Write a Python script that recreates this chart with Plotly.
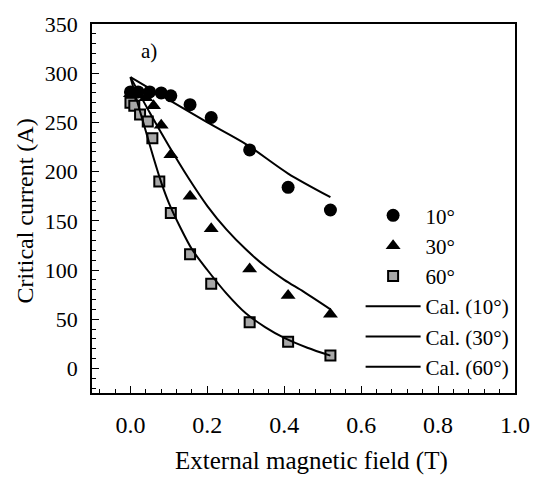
import plotly.graph_objects as go

# Measured data
x10 = [0.0, 0.02, 0.05, 0.08, 0.105, 0.155, 0.21, 0.31, 0.41, 0.52]
y10 = [281, 281, 281, 280, 277, 268, 255, 222, 184, 161]

x30 = [0.0, 0.02, 0.04, 0.06, 0.08, 0.105, 0.155, 0.21, 0.31, 0.41, 0.52]
y30 = [279, 278, 275, 267, 247, 217, 175, 142, 101, 74, 55]

x60 = [0.0, 0.01, 0.025, 0.045, 0.057, 0.075, 0.105, 0.155, 0.21, 0.31, 0.41, 0.52]
y60 = [270, 267, 258, 251, 234, 190, 158, 116, 86, 47, 27, 13]

# Calculated curves
cx10 = [0.0, 0.1, 0.2, 0.3, 0.41, 0.52]
cy10 = [296, 273, 250, 228, 198, 174]

cx30 = [0.0, 0.05, 0.1, 0.15, 0.2, 0.25, 0.3, 0.35, 0.4, 0.45, 0.52]
cy30 = [296, 260, 226, 194, 165, 141, 121, 104, 90, 78, 60]

cx60 = [0.0, 0.02, 0.04, 0.06, 0.08, 0.1, 0.13, 0.16, 0.2, 0.25, 0.3, 0.35, 0.4, 0.46, 0.52]
cy60 = [296, 268, 241, 214, 189, 168, 143, 121, 100, 76, 56, 42, 31, 21, 13]

names = ["10°", "30°", "60°", "Cal. (10°)", "Cal. (30°)", "Cal. (60°)"]
x_title = "External magnetic field (T)"
y_title = "Critical current (A)"

FONT = "Liberation Serif, Times New Roman, DejaVu Serif, serif"

fig = go.Figure()
fig.add_trace(go.Scatter(x=x10, y=y10, mode="markers", name=names[0],
                         marker=dict(symbol="circle", size=13, color="black")))
fig.add_trace(go.Scatter(x=x30, y=y30, mode="markers", name=names[1],
                         marker=dict(symbol="triangle-up", size=13, color="black")))
fig.add_trace(go.Scatter(x=x60, y=y60, mode="markers", name=names[2],
                         marker=dict(symbol="square", size=10, color="#a8a8a8",
                                     line=dict(color="black", width=2))))
for cx, cy, nm in [(cx10, cy10, names[3]), (cx30, cy30, names[4]), (cx60, cy60, names[5])]:
    fig.add_trace(go.Scatter(x=cx, y=cy, mode="lines", name=nm,
                             line_shape="spline", line_smoothing=0.8,
                             line=dict(color="black", width=2)))

fig.add_annotation(x=0.048, y=323, xref="x", yref="y", text="a)", showarrow=False,
                   font=dict(family=FONT, size=21, color="black"))
fig.add_annotation(x=0.52, y=-0.184, xref="paper", yref="paper", text=x_title,
                   showarrow=False, xanchor="center", yanchor="middle",
                   font=dict(family=FONT, size=25, color="black"))
fig.add_annotation(x=-0.158, y=0.492, xref="paper", yref="paper", text=y_title,
                   showarrow=False, xanchor="center", yanchor="middle", textangle=-90,
                   font=dict(family=FONT, size=24, color="black"))

fig.update_layout(
    width=545, height=479, autosize=False,
    margin=dict(l=92, r=30, t=18, b=86),
    paper_bgcolor="white", plot_bgcolor="white",
    font=dict(family=FONT, size=22, color="black"),
    legend=dict(x=0.635, y=0.536, xanchor="left", yanchor="top",
                bgcolor="rgba(0,0,0,0)", font=dict(family=FONT, size=21),
                tracegroupgap=0, itemwidth=55),
    xaxis=dict(range=[-0.1, 1.0], tickmode="linear", tick0=0, dtick=0.2,
               tickformat=".1f", showgrid=False, zeroline=False,
               showline=True, linecolor="black", linewidth=1.5, mirror=True,
               ticks="inside", ticklen=7, tickcolor="black",
               tickfont=dict(family=FONT, size=24), ticklabelstandoff=9,
               minor=dict(dtick=0.04, tick0=0, ticks="inside", ticklen=4, tickcolor="black")),
    yaxis=dict(range=[-25, 350], tickmode="linear", tick0=0, dtick=50,
               showgrid=False, zeroline=False,
               showline=True, linecolor="black", linewidth=1.5, mirror=True,
               ticks="inside", ticklen=7, tickcolor="black",
               tickfont=dict(family=FONT, size=22), ticklabelstandoff=8,
               minor=dict(dtick=10, tick0=0, ticks="inside", ticklen=4, tickcolor="black")),
)

fig.write_html("out.html")
